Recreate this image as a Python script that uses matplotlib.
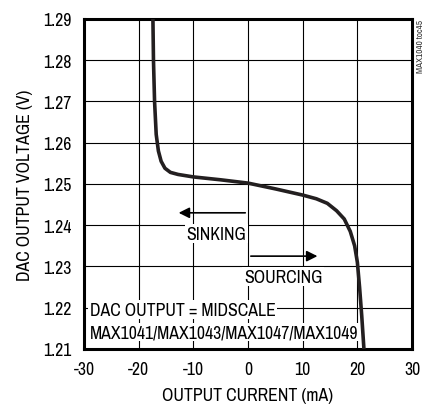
import matplotlib
matplotlib.use("Agg")
import matplotlib.pyplot as plt

plt.rcParams['font.family'] = ['Archivo Narrow', 'DejaVu Sans']
plt.rcParams['axes.unicode_minus'] = False

# output current (mA) vs DAC output voltage (V)
current = [-17.4, -17.3, -17.1, -16.8, -16.4, -15.9, -15.2, -14.2, -12.8, -10, -5, 0,
           5, 10, 12.5, 14.5, 16.2, 17.6, 18.7, 19.5, 20.0, 20.4, 20.8, 21.2]
voltage = [1.29, 1.28, 1.27, 1.262, 1.258, 1.2555, 1.2538, 1.2528, 1.2523, 1.2517, 1.251, 1.2502,
           1.2488, 1.2473, 1.2464, 1.2453, 1.2435, 1.2415, 1.2385, 1.235, 1.231, 1.225, 1.218, 1.21]

xticks = [-30, -20, -10, 0, 10, 20, 30]
yticks = [1.21, 1.22, 1.23, 1.24, 1.25, 1.26, 1.27, 1.28, 1.29]

fs = 12.8

fig = plt.figure(figsize=(4.31, 4.06), dpi=100)
ax = fig.add_axes([0.195, 0.138, 0.761, 0.813])

ax.plot(current, voltage, color='#231f20', lw=2.6, solid_capstyle='butt', zorder=5)

ax.set_xlim(-30, 30)
ax.set_ylim(1.21, 1.29)
ax.set_xticks(xticks)
ax.set_yticks(yticks)
ax.set_yticklabels(["%.2f" % v for v in yticks])
ax.tick_params(length=0, labelsize=fs, pad=9)
ax.grid(True, color='black', lw=0.8)
ax.set_axisbelow(True)
for s in ax.spines.values():
    s.set_linewidth(2.2)

ax.set_xlabel("OUTPUT CURRENT (mA)", fontsize=fs, labelpad=7)
ax.set_ylabel("DAC OUTPUT VOLTAGE (V)", fontsize=fs, labelpad=7)

# arrows and labels
ax.annotate("", xy=(-13.2, 1.2430), xytext=(0, 1.2430),
            arrowprops=dict(arrowstyle='-|>', color='black', lw=1.2, mutation_scale=16), zorder=4)
ax.annotate("", xy=(13.2, 1.2325), xytext=(0, 1.2325),
            arrowprops=dict(arrowstyle='-|>', color='black', lw=1.2, mutation_scale=16), zorder=4)
box = dict(facecolor='white', edgecolor='none', pad=1)
ax.text(-5.8, 1.2379, "SINKING", ha='center', va='center', fontsize=fs, bbox=box, zorder=4)
ax.text(6.4, 1.2275, "SOURCING", ha='center', va='center', fontsize=fs, bbox=box, zorder=4)
ax.text(-29.0, 1.2195, "DAC OUTPUT = MIDSCALE", ha='left', va='center', fontsize=fs, bbox=box, zorder=4)
ax.text(-29.0, 1.2141, "MAX1041/MAX1043/MAX1047/MAX1049", ha='left', va='center', fontsize=fs,
        bbox=box, zorder=4)

fig.text(0.975, 0.95, "MAX1040 toc45", rotation=90, ha='center', va='top', fontsize=6.5, color='#333333')

fig.savefig("out.png", dpi=100)
